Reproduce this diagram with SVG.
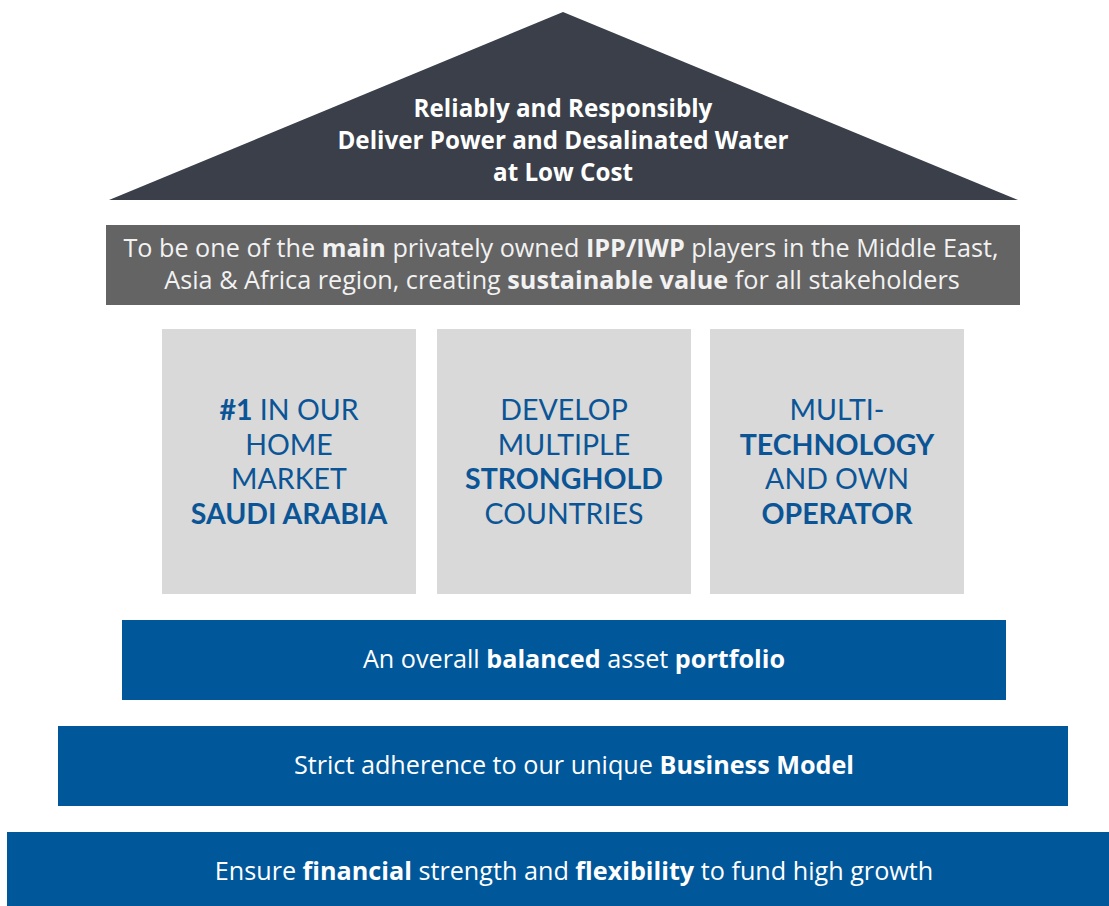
<svg xmlns="http://www.w3.org/2000/svg" width="1109" height="906" viewBox="0 0 1109 906">
<style>
.t{font-family:"Open Sans",Lato,"Liberation Sans",sans-serif;text-anchor:middle}
.p{font-family:Lato,"Open Sans","Liberation Sans",sans-serif;text-anchor:middle}
.h{fill:#ffffff;font-size:24.2px}
.w{fill:#ffffff;font-size:25.2px}
.g{fill:#f2f2f2;font-size:25.2px}
.b{font-weight:bold}
.box{fill:#d9d9d9}
.bt{fill:#0b5596;font-size:28.5px}
.bar{fill:#00579a}
</style>
<rect width="1109" height="906" fill="#ffffff"/>
<g id="roof">
<polygon points="563,12 1018,200 109,200" fill="#3a3f4a"/>
<text class="t h b" x="563" y="117">Reliably and Responsibly</text>
<text class="t h b" x="563" y="149">Deliver Power and Desalinated Water</text>
<text class="t h b" x="563" y="181">at Low Cost</text>
</g>
<g id="vision">
<rect x="106" y="225" width="914" height="80" fill="#646464"/>
<text class="t g" x="561" y="257">To be one of the <tspan class="b">main</tspan> privately owned <tspan class="b">IPP/IWP</tspan> players in the Middle East,</text>
<text class="t g" x="562" y="289">Asia &amp; Africa region, creating <tspan class="b">sustainable value</tspan> for all stakeholders</text>
</g>
<g id="pillar1">
<rect class="box" x="162" y="329" width="254" height="265"/>
<text class="p bt" x="289" y="420"><tspan class="b">#1</tspan> IN OUR</text>
<text class="p bt" x="289" y="455">HOME</text>
<text class="p bt" x="289" y="489">MARKET</text>
<text class="p bt b" x="289" y="524">SAUDI ARABIA</text>
</g>
<g id="pillar2">
<rect class="box" x="437" y="329" width="254" height="265"/>
<text class="p bt" x="564" y="420">DEVELOP</text>
<text class="p bt" x="564" y="455">MULTIPLE</text>
<text class="p bt b" x="564" y="489">STRONGHOLD</text>
<text class="p bt" x="564" y="524">COUNTRIES</text>
</g>
<g id="pillar3">
<rect class="box" x="710" y="329" width="254" height="265"/>
<text class="p bt" x="837" y="420">MULTI-</text>
<text class="p bt b" x="837" y="455">TECHNOLOGY</text>
<text class="p bt" x="837" y="489">AND OWN</text>
<text class="p bt b" x="837" y="524">OPERATOR</text>
</g>
<g id="base1">
<rect class="bar" x="122" y="620" width="884" height="80"/>
<text class="t w" x="574" y="668">An overall <tspan class="b">balanced</tspan> asset <tspan class="b">portfolio</tspan></text>
</g>
<g id="base2">
<rect class="bar" x="58" y="726" width="1010" height="80"/>
<text class="t w" x="574" y="774">Strict adherence to our unique <tspan class="b">Business Model</tspan></text>
</g>
<g id="base3">
<rect class="bar" x="7" y="832" width="1102" height="74"/>
<text class="t w" x="574" y="880">Ensure <tspan class="b">financial</tspan> strength and <tspan class="b">flexibility</tspan> to fund high growth</text>
</g>
<g id="connectors"/>
</svg>
